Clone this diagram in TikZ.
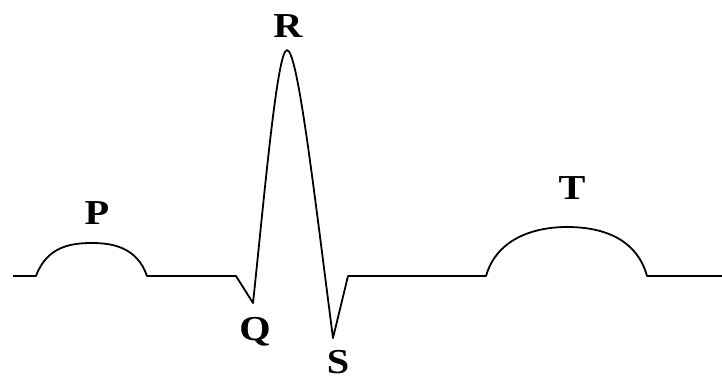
\documentclass[tikz,border=0pt]{standalone}
\usepackage{fontspec}
\setmainfont{Liberation Serif}
\begin{document}
\begin{tikzpicture}[x=1pt,y=-1pt,
  wave/.style={line width=1.8pt,line join=round},
  lbl/.style={font=\fontsize{35}{40}\selectfont\bfseries,inner sep=0pt,anchor=center,xscale=1.15}]
\useasboundingbox (0,0) rectangle (722,381);
\draw[wave] (13,276) -- (36,276)
  .. controls (47,246) and (72,243) .. (92,243)
  .. controls (112,243) and (137,247) .. (147,276)
  -- (236,276) -- (253,303)
  .. controls (264,200) and (277,50) .. (287,50)
  .. controls (298,50) and (315,200) .. (333,338)
  -- (348,276) -- (486,276)
  .. controls (497,238) and (535,227) .. (567,227)
  .. controls (605,227) and (637,240) .. (647,276)
  -- (722,276);
\node[lbl] (P) at (97,213) {P};
\node[lbl] (R) at (288,26) {R};
\node[lbl] (Q) at (255,332) {Q};
\node[lbl] (S) at (338,362) {S};
\node[lbl] (T) at (572,188) {T};
\end{tikzpicture}
\end{document}
